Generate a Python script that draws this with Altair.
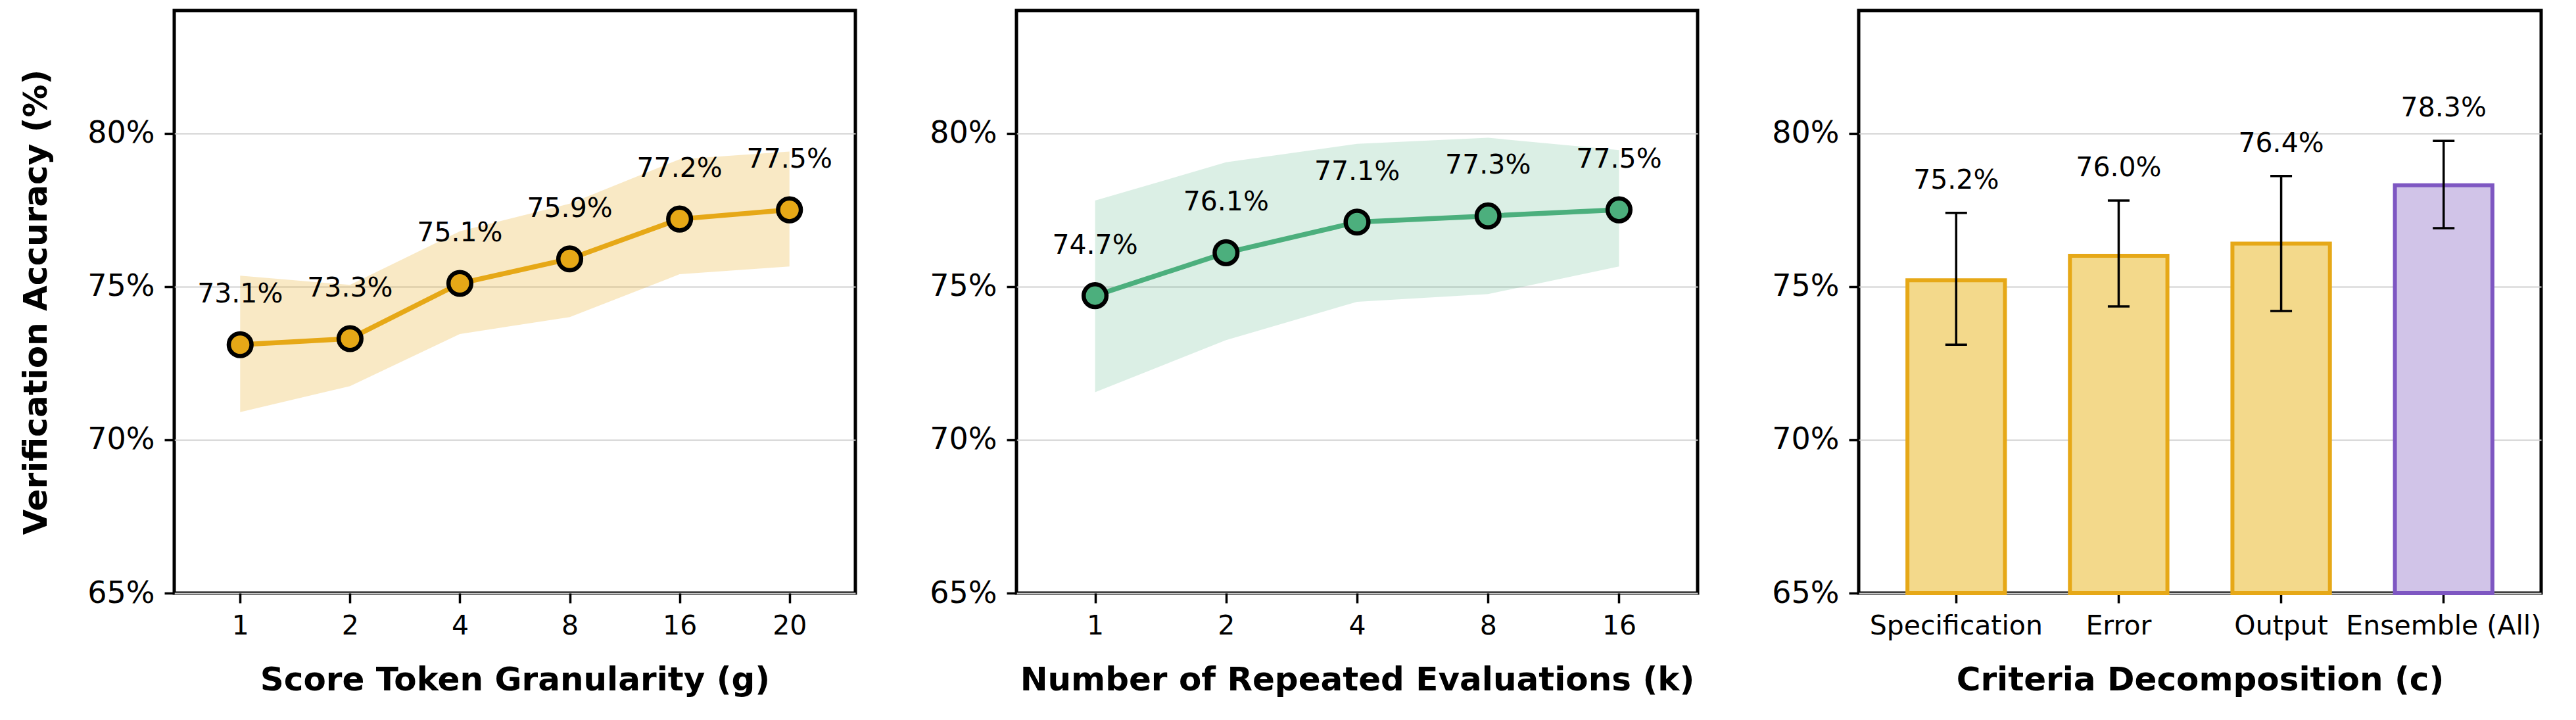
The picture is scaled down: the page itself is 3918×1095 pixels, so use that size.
import altair as alt
import pandas as pd

# ---------------- data ----------------
g_labels = ["1", "2", "4", "8", "16", "20"]
g_acc = [73.1, 73.3, 75.1, 75.9, 77.2, 77.5]
g_lo = [70.9, 71.75, 73.45, 74.0, 75.4, 75.65]
g_hi = [75.35, 75.05, 76.8, 77.7, 79.15, 79.4]

k_labels = ["1", "2", "4", "8", "16"]
k_acc = [74.7, 76.1, 77.1, 77.3, 77.5]
k_lo = [71.55, 73.25, 74.5, 74.75, 75.65]
k_hi = [77.8, 79.05, 79.65, 79.85, 79.45]

c_labels = ["Specification", "Error", "Output", "Ensemble (All)"]
c_acc = [75.2, 76.0, 76.4, 78.3]
c_lo = [73.1, 74.35, 74.2, 76.9]
c_hi = [77.4, 77.8, 78.6, 79.75]
c_group = ["single", "single", "single", "ensemble"]

y_ticks = [65, 70, 75, 80]
Y_MIN, Y_MAX = 65, 84

FONT = "DejaVu Sans"
GOLD = "#E6A817"
GREEN = "#4CAF7D"
PURPLE = "#7E57C2"
GOLD_FILL = "#F3D98B"
PURPLE_FILL = "#D1C4E8"

W, H = 1036, 886


def yaxis(title):
    return alt.Axis(values=y_ticks, labelExpr="datum.value + '%'", grid=True,
                    title=title if title else "")


def yscale():
    return alt.Scale(domain=[Y_MIN, Y_MAX], nice=False, zero=False)


def line_panel(labels, acc, lo, hi, color, band_opacity, xtitle, ytitle):
    df = pd.DataFrame({
        "x": labels, "acc": acc, "lo": lo, "hi": hi,
        "txt": [f"{v:.1f}%" for v in acc],
    })
    xenc = alt.X("x:O", sort=labels,
                 scale=alt.Scale(type="point", padding=0.6),
                 axis=alt.Axis(title=xtitle, grid=False, labelAngle=0))
    base = alt.Chart(df).encode(x=xenc)
    band = base.mark_area(color=color, opacity=band_opacity).encode(
        y=alt.Y("lo:Q", scale=yscale(), axis=yaxis(ytitle)), y2="hi:Q")
    line = base.mark_line(color=color, strokeWidth=7.5).encode(
        y=alt.Y("acc:Q", scale=yscale(), axis=yaxis(ytitle)))
    pts = base.mark_point(shape="circle", filled=True, fill=color, stroke="black",
                          strokeWidth=6.5, size=1200, opacity=1).encode(
        y=alt.Y("acc:Q", scale=yscale(), axis=yaxis(ytitle)))
    txt = base.mark_text(font=FONT, fontSize=41, dy=-76, baseline="middle",
                         color="black").encode(
        y=alt.Y("acc:Q", scale=yscale(), axis=yaxis(ytitle)), text="txt:N")
    return alt.layer(band, line, pts, txt).properties(width=W, height=H)


p1 = line_panel(g_labels, g_acc, g_lo, g_hi, GOLD, 0.25,
                "Score Token Granularity (g)", "Verification Accuracy (%)")
p2 = line_panel(k_labels, k_acc, k_lo, k_hi, GREEN, 0.2,
                "Number of Repeated Evaluations (k)", None)

dfc = pd.DataFrame({
    "c": c_labels, "acc": c_acc, "lo": c_lo, "hi": c_hi, "grp": c_group,
    "txt": [f"{v:.1f}%" for v in c_acc],
})
xc = alt.X("c:N", sort=c_labels,
           scale=alt.Scale(paddingInner=0.4, paddingOuter=0.3),
           axis=alt.Axis(title="Criteria Decomposition (c)", grid=False, labelAngle=0,
                         labelLimit=600))
basec = alt.Chart(dfc).encode(x=xc)
bars = basec.mark_bar(strokeWidth=6).encode(
    y=alt.Y("acc:Q", scale=yscale(), axis=yaxis(None)),
    y2=alt.datum(Y_MIN),
    fill=alt.Fill("grp:N", scale=alt.Scale(domain=["single", "ensemble"],
                                           range=[GOLD_FILL, PURPLE_FILL]), legend=None),
    stroke=alt.Stroke("grp:N", scale=alt.Scale(domain=["single", "ensemble"],
                                               range=[GOLD, PURPLE]), legend=None),
)
err = basec.mark_rule(color="black", strokeWidth=3.5).encode(
    y=alt.Y("lo:Q", scale=yscale(), axis=yaxis(None)), y2="hi:Q")
cap_hi = basec.mark_tick(color="black", thickness=3.5, size=33, opacity=1).encode(
    y=alt.Y("hi:Q", scale=yscale(), axis=yaxis(None)))
cap_lo = basec.mark_tick(color="black", thickness=3.5, size=33, opacity=1).encode(
    y=alt.Y("lo:Q", scale=yscale(), axis=yaxis(None)))
txtc = basec.mark_text(font=FONT, fontSize=41, dy=-49, baseline="middle",
                       color="black").encode(
    y=alt.Y("hi:Q", scale=yscale(), axis=yaxis(None)), text="txt:N")
p3 = alt.layer(bars, err, cap_hi, cap_lo, txtc).properties(width=W + 2, height=H)

chart = (
    alt.hconcat(p1, p2, p3, spacing=107)
    .properties(padding={"left": 28, "top": 13, "right": 10, "bottom": 10})
    .configure_view(stroke="black", strokeWidth=5)
    .configure_axis(
        labelFont=FONT, titleFont=FONT, labelColor="black", titleColor="black",
        tickColor="black", tickWidth=3.5, tickSize=15, domain=False,
        gridColor="#d0d0d0", gridWidth=2,
    )
    .configure_axisY(labelFontSize=46, labelPadding=15, titleFontSize=50,
                     titleFontWeight="bold", titlePadding=52)
    .configure_axisX(labelFontSize=41, labelPadding=15, titleFontSize=50,
                     titleFontWeight="bold", titlePadding=37)
)

chart.save("out.html", embed_options={"renderer": "svg", "actions": False})
